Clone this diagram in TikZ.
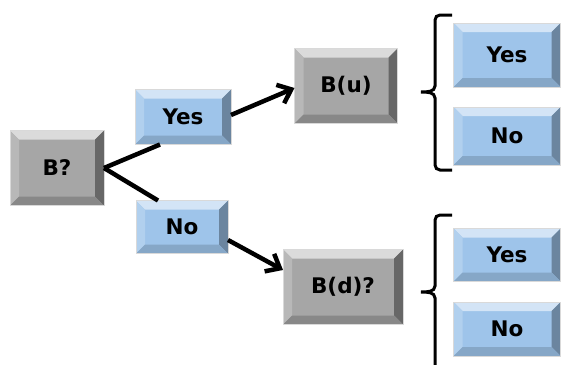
\documentclass[tikz,border=0pt]{standalone}
\usepackage{fontspec}
\setmainfont{DejaVu Sans}
\usetikzlibrary{arrows.meta}

\definecolor{boxblue}{HTML}{9EC4EA}
\definecolor{boxgray}{HTML}{A6A6A6}

\begin{document}
\begin{tikzpicture}[x=1pt,y=-1pt,
	bevel/.style n args={4}{path picture={
		\fill[#1] (path picture bounding box.north west) -- (path picture bounding box.north east)
			-- ([xshift=-9pt,yshift=-9pt]path picture bounding box.north east)
			-- ([xshift=9pt,yshift=-9pt]path picture bounding box.north west) -- cycle;
		\fill[#2] (path picture bounding box.north west) -- (path picture bounding box.south west)
			-- ([xshift=9pt,yshift=9pt]path picture bounding box.south west)
			-- ([xshift=9pt,yshift=-9pt]path picture bounding box.north west) -- cycle;
		\fill[#3] (path picture bounding box.north east) -- (path picture bounding box.south east)
			-- ([xshift=-9pt,yshift=9pt]path picture bounding box.south east)
			-- ([xshift=-9pt,yshift=-9pt]path picture bounding box.north east) -- cycle;
		\fill[#4] (path picture bounding box.south west) -- (path picture bounding box.south east)
			-- ([xshift=-9pt,yshift=9pt]path picture bounding box.south east)
			-- ([xshift=9pt,yshift=9pt]path picture bounding box.south west) -- cycle;
	}},
	box/.style={inner sep=0pt,outer sep=0pt,draw=white!85!black,line width=0.6pt,
		font=\bfseries\fontsize{21.5}{25}\selectfont},
	bluebox/.style={box,fill=boxblue,bevel={boxblue!45!white}{boxblue!80!white}{boxblue!68!black}{boxblue!85!black}},
	graybox/.style={box,fill=boxgray,bevel={boxgray!40!white}{boxgray!80!white}{boxgray!62!black}{boxgray!82!black}},
	conn/.style={line width=4.5pt},
	arr/.style={conn,-{Straight Barb[length=12pt,width=20pt]}},
	brc/.style={line width=3pt}]
	\useasboundingbox (0,0) rectangle (562,364);
	% first question
	\node[graybox,minimum width=94pt,minimum height=75pt] (b) at (57,168) {B?};
	\node[bluebox,minimum width=96pt,minimum height=55pt] (y1) at (183,117) {Yes};
	\node[bluebox,minimum width=92pt,minimum height=53pt] (n1) at (182,227) {No};
	\draw[conn] (b.east) -- ([xshift=-23pt]y1.south);
	\draw[conn] (b.east) -- ([xshift=-24pt]n1.north);
	% second question
	\node[graybox,minimum width=103pt,minimum height=75pt] (bu) at (346,86) {B(u)};
	\node[graybox,minimum width=120pt,minimum height=75pt] (bd) at (343,287) {B(d)?};
	\draw[arr] ([yshift=2pt]y1.east) -- ([yshift=-2pt]bu.west);
	\draw[arr] ([yshift=-13pt]n1.east) -- ([yshift=17pt]bd.west);
	% answers
	\node[bluebox,minimum width=107pt,minimum height=64pt] (uy) at (507,55) {Yes};
	\node[bluebox,minimum width=107pt,minimum height=58pt] (un) at (507,136) {No};
	\node[bluebox,minimum width=107pt,minimum height=53pt] (dy) at (507,255) {Yes};
	\node[bluebox,minimum width=107pt,minimum height=54pt] (dn) at (507,329) {No};
	\draw[brc] (452,15) -- (440,15) to[out=180,in=90] (435,20) -- (435,86)
		to[out=-90,in=0] (421,92) to[out=0,in=90] (435,98) -- (435,165)
		to[out=-90,in=180] (440,170) -- (452,170);
	\draw[brc] (452,215) -- (440,215) to[out=180,in=90] (435,220) -- (435,286)
		to[out=-90,in=0] (421,292) to[out=0,in=90] (435,298) -- (435,370);
\end{tikzpicture}
\end{document}
